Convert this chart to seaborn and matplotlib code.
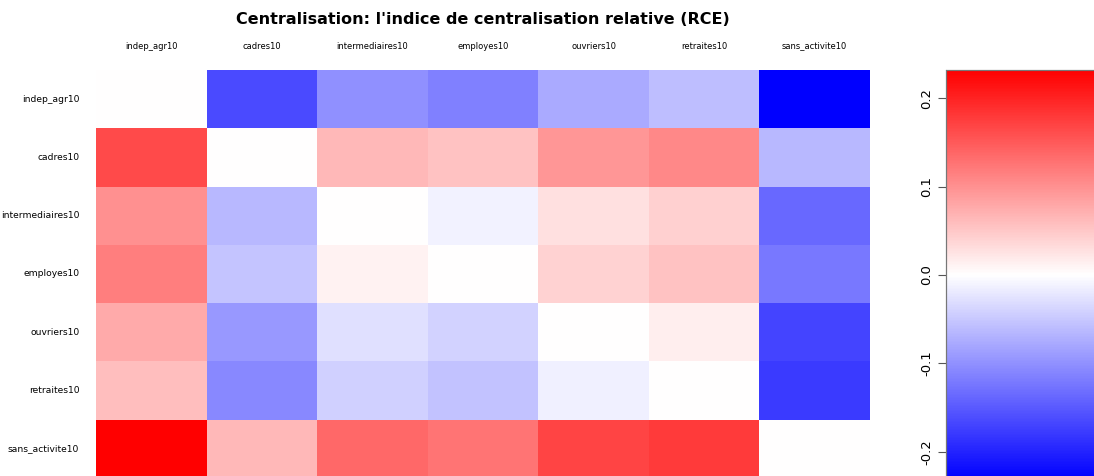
import numpy as np
import pandas as pd
import matplotlib
matplotlib.use("Agg")
import matplotlib.pyplot as plt
from matplotlib.colors import LinearSegmentedColormap
import seaborn as sns

# categories (rows and columns are the same groups)
groups = ['indep_agr10', 'cadres10', 'intermediaires10', 'employes10',
          'ouvriers10', 'retraites10', 'sans_activite10']

# RCE values, one list per row
indep_agr10 = [0.0, -0.164, -0.101, -0.116, -0.077, -0.059, -0.232]
cadres10 = [0.164, 0.0, 0.065, 0.055, 0.096, 0.108, -0.065]
intermediaires10 = [0.101, -0.065, 0.0, -0.012, 0.028, 0.043, -0.136]
employes10 = [0.116, -0.054, 0.012, 0.0, 0.041, 0.055, -0.123]
ouvriers10 = [0.077, -0.094, -0.028, -0.041, 0.0, 0.015, -0.169]
retraites10 = [0.059, -0.108, -0.043, -0.055, -0.014, 0.0, -0.179]
sans_activite10 = [0.232, 0.065, 0.136, 0.126, 0.169, 0.179, 0.0]

df = pd.DataFrame([indep_agr10, cadres10, intermediaires10, employes10,
                   ouvriers10, retraites10, sans_activite10],
                  index=groups, columns=groups)

cmap = LinearSegmentedColormap.from_list('bwr_r', ['#0000ff', '#ffffff', '#ff0000'])
vlim = 0.232

sns.set_style('white')
plt.rcParams['text.color'] = 'black'
plt.rcParams['xtick.color'] = 'black'
plt.rcParams['ytick.color'] = 'black'

fig = plt.figure(figsize=(10.94, 4.76), dpi=100)
ax = fig.add_axes([96 / 1094, 1 - 478 / 476, 774 / 1094, 408 / 476])
cax = fig.add_axes([946 / 1094, 1 - 480 / 476, 160 / 1094, 410 / 476])

sns.heatmap(df, ax=ax, cbar_ax=cax, cmap=cmap, vmin=-vlim, vmax=vlim,
            xticklabels=groups, yticklabels=groups)

# column labels on top, no tick marks
ax.xaxis.tick_top()
ax.tick_params(axis='x', length=0, pad=14, labelsize=6, rotation=0)
ax.tick_params(axis='y', length=0, pad=12, labelsize=6.6, rotation=0)
ax.set_xlabel('')
ax.set_ylabel('')

# colour key: ticks on the left, rotated labels
cax.yaxis.set_ticks_position('left')
cax.set_yticks([-0.2, -0.1, 0.0, 0.1, 0.2])
cax.set_yticklabels(['-0.2', '-0.1', '0.0', '0.1', '0.2'], rotation=90, va='center')
cax.tick_params(axis='y', length=6, width=0.8, color='#555555', labelsize=9.5, pad=3)
for s in cax.spines.values():
    s.set_visible(True)
    s.set_color('#777777')
    s.set_linewidth(0.8)

fig.text(483 / 1094, 1 - 20 / 476, "Centralisation: l'indice de centralisation relative (RCE)",
         ha='center', va='center', fontsize=11.5, fontweight='bold')

fig.savefig('out.png', dpi=100)
